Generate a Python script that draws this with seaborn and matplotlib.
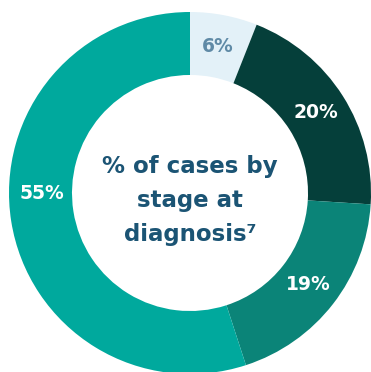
import matplotlib
matplotlib.use("Agg")
import matplotlib.pyplot as plt
import seaborn as sns

stages = ["Localized-small", "Regional", "Distant", "Localized"]
values = [6, 20, 19, 55]
labels = ["6%", "20%", "19%", "55%"]
colors = ["#e3f1f8", "#053f3a", "#0b8478", "#00a99d"]
label_colors = ["#5f8aa6", "white", "white", "white"]
center_text = "% of cases by\nstage at\ndiagnosis\u2077"

sns.set_theme(style="white")
plt.rcParams["font.family"] = ["DejaVu Sans"]

fig = plt.figure(figsize=(3.71, 3.72), dpi=100)
ax = fig.add_axes([0, 0, 1, 1])
R = 181.0
cx, cy = 190.0, 193.0

wedges, texts = ax.pie(values, colors=colors, startangle=90, counterclock=False,
                       radius=1.0, wedgeprops=dict(width=0.348, edgecolor="none"),
                       labels=labels, labeldistance=0.826)
for t, c in zip(texts, label_colors):
    t.set_color(c)
    t.set_fontsize(13.5)
    t.set_fontweight("bold")
    t.set_ha("center")
    t.set_va("center")
# the 55% label sits level with the centre of the ring
x55, _ = texts[3].get_position()
texts[3].set_position((x55, 0.0))

ax.text(0.0, -0.04, center_text, ha="center", va="center", fontsize=16.5,
        fontweight="bold", color="#1b5474", linespacing=1.6)

ax.set_aspect("auto")
ax.set_xlim(-cx / R, (371 - cx) / R)
ax.set_ylim(-(372 - cy) / R, cy / R)
ax.axis("off")

fig.savefig("out.png", dpi=100)
